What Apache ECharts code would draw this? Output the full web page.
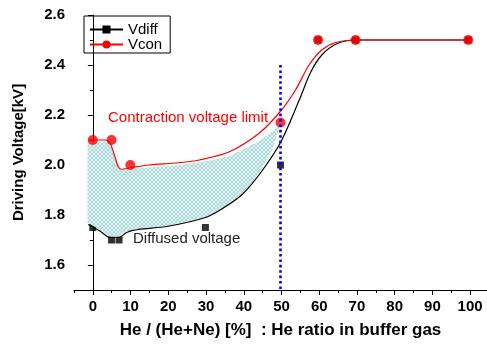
<!DOCTYPE html>
<html>
<head>
<meta charset="utf-8">
<script src="https://cdn.jsdelivr.net/npm/echarts@6/dist/echarts.min.js"></script>
<style>
  html, body { margin: 0; padding: 0; background: #fff; }
  #chart { width: 487px; height: 345px; }
</style>
</head>
<body>
<div id="chart"></div>
<script>
// measured points
const vdiffX = [0, 5, 7, 10, 30, 50, 60, 70, 100];
const vdiffY = [1.75, 1.70, 1.70, 1.75, 1.75, 2.0, 2.5, 2.5, 2.5];
const vconX = [0, 5, 10, 50, 60, 70, 100];
const vconY = [2.1, 2.1, 2.0, 2.17, 2.5, 2.5, 2.5];

// fitted curves as drawn in the picture (they do not pass through the points)
const vdiffCurveX = [-1.2, 2, 4.6, 7, 9, 12, 20, 30, 35, 40, 45, 50, 55, 58, 61, 65, 70, 100];
const vdiffCurveY = [1.762, 1.735, 1.71, 1.71, 1.73, 1.742, 1.755, 1.79, 1.83, 1.885, 1.975, 2.09, 2.26, 2.37, 2.44, 2.485, 2.5, 2.5];
const vconCurveX = [-1.2, 3.3, 4.6, 5.9, 6.8, 7.7, 10.3, 15, 23, 28.4, 36.4, 44.3, 50, 54, 57.6, 61, 64.7, 70, 100];
const vconCurveY = [2.10, 2.10, 2.087, 2.033, 1.993, 1.983, 1.99, 2.0, 2.009, 2.02, 2.053, 2.127, 2.215, 2.30, 2.40, 2.46, 2.49, 2.5, 2.5];

// hatched band between the two limits
const bandTopX = [-1.4, 3.3, 4.6, 5.9, 6.8, 7.7, 10, 15, 23.2, 28.4, 36.4, 44.3, 48.8, 50];
const bandTopY = [2.09, 2.095, 2.085, 2.03, 1.99, 1.98, 1.985, 1.99, 2.0, 2.01, 2.035, 2.095, 2.147, 2.17];
const bandBottomX = [49.6, 47.8, 45, 41.7, 35.5, 30, 20, 12, 9, 7, 4.6, 2, -1.4];
const bandBottomY = [2.14, 2.06, 1.985, 1.91, 1.835, 1.79, 1.757, 1.745, 1.735, 1.715, 1.715, 1.74, 1.77];

const xTicks = [0, 100];
const yTicks = [1.6, 2.6];
const limitX = 50;
const limitRange = [2.4, 1.5];

const FONT = '"Liberation Sans", Arial, sans-serif';

const pair = (xs, ys) => xs.map((x, i) => [x, ys[i]]);

// little crosshatch tile for the band
const tile = document.createElement('canvas');
tile.width = 4;
tile.height = 4;
const tctx = tile.getContext('2d');
tctx.fillStyle = '#b0d9dc';
tctx.fillRect(0, 0, 4, 4);
tctx.fillStyle = 'rgba(255,255,255,0.6)';
for (let i = 0; i < 4; i++) {
  tctx.fillRect(i, i, 1, 1);
  tctx.fillRect(3 - i, i, 1, 1);
}

const chart = echarts.init(document.getElementById('chart'), null, { renderer: 'canvas' });

// grid 0 holds the data (-5..105, 1.5..2.6); grid 1 only carries the labelled ticks
const gLeft = 74, gTop = 15, gWidth = 415, gHeight = 275;
const pxPerX = gWidth / 110;
const pxPerY = gHeight / 1.1;

const tickLabel = { color: '#000', fontSize: 15, fontWeight: 'bold', fontFamily: FONT };

const option = {
  animation: false,
  grid: [
    { left: gLeft, top: gTop, width: gWidth, height: gHeight },
    { left: gLeft + 5 * pxPerX, top: gTop, width: 100 * pxPerX, height: 1.0 * pxPerY }
  ],
  legend: {
    orient: 'vertical',
    left: 84,
    top: 16,
    data: ['Vdiff', 'Vcon'],
    borderColor: '#000',
    borderWidth: 1,
    borderRadius: 0,
    padding: [6, 8, 1, 5],
    itemGap: 0,
    itemWidth: 33,
    itemHeight: 10,
    textStyle: { color: '#000', fontSize: 15, fontFamily: FONT, lineHeight: 15 }
  },
  xAxis: [
    {
      type: 'value', gridIndex: 0, min: -5, max: 105, interval: 110,
      name: 'He / (He+Ne) [%]  : He ratio in buffer gas',
      nameLocation: 'middle', nameGap: 32,
      nameTextStyle: { color: '#000', fontSize: 17, fontWeight: 'bold', fontFamily: FONT },
      axisLine: { show: true, lineStyle: { color: '#000', width: 1 } },
      axisTick: { show: true, length: 3, lineStyle: { color: '#000' } },
      axisLabel: { show: false },
      splitLine: { show: false }
    },
    {
      type: 'value', gridIndex: 1, min: xTicks[0], max: xTicks[1], interval: 10,
      offset: gHeight - 1.0 * pxPerY,
      axisLine: { show: false },
      axisTick: { show: true, length: 5, lineStyle: { color: '#000' } },
      minorTick: { show: true, splitNumber: 2, length: 3, lineStyle: { color: '#000' } },
      axisLabel: Object.assign({ margin: 9 }, tickLabel),
      splitLine: { show: false }
    }
  ],
  yAxis: [
    {
      type: 'value', gridIndex: 0, min: 1.5, max: 2.6, interval: 1.1,
      name: 'Driving Voltage[kV]',
      nameLocation: 'middle', nameGap: 48,
      nameTextStyle: { color: '#000', fontSize: 15, fontWeight: 'bold', fontFamily: FONT },
      axisLine: { show: true, lineStyle: { color: '#000', width: 1 } },
      axisTick: { show: true, length: 3, lineStyle: { color: '#000' } },
      axisLabel: { show: false },
      splitLine: { show: false }
    },
    {
      type: 'value', gridIndex: 1, min: yTicks[0], max: yTicks[1], interval: 0.2,
      offset: 5 * pxPerX,
      axisLine: { show: false },
      axisTick: { show: true, length: 5, lineStyle: { color: '#000' } },
      minorTick: { show: true, splitNumber: 2, length: 3, lineStyle: { color: '#000' } },
      axisLabel: Object.assign({ margin: 9, formatter: v => v.toFixed(1) }, tickLabel),
      splitLine: { show: false }
    }
  ],
  graphic: [
    {
      type: 'text', left: 108, top: 110, z: 10,
      style: { text: 'Contraction voltage limit', fill: '#ff0000', font: '15px ' + FONT }
    },
    {
      type: 'text', left: 133, top: 231, z: 10,
      style: { text: 'Diffused voltage', fill: '#222', font: '15px ' + FONT }
    }
  ],
  series: [
    {
      name: 'Vdiff points',
      type: 'scatter',
      xAxisIndex: 0, yAxisIndex: 0,
      z: 1,
      symbol: 'rect',
      symbolSize: 7,
      itemStyle: { color: '#000' },
      data: pair(vdiffX, vdiffY)
    },
    {
      name: 'band',
      type: 'custom',
      xAxisIndex: 0, yAxisIndex: 0,
      z: 2,
      silent: true,
      data: [[0, 2]],
      renderItem: (params, api) => {
        const pts = pair(bandTopX, bandTopY).concat(pair(bandBottomX, bandBottomY)).map(p => api.coord(p));
        return {
          type: 'polygon',
          shape: { points: pts },
          style: { fill: { image: tile, repeat: 'repeat' }, stroke: null }
        };
      }
    },
    {
      name: 'Vdiff',
      type: 'line',
      xAxisIndex: 0, yAxisIndex: 0,
      z: 3,
      smooth: 0.3,
      showSymbol: false,
      symbol: 'rect',
      itemStyle: { color: '#000' },
      lineStyle: { color: '#000', width: 1.2 },
      data: pair(vdiffCurveX, vdiffCurveY)
    },
    {
      name: 'Vcon',
      type: 'line',
      xAxisIndex: 0, yAxisIndex: 0,
      z: 3,
      smooth: 0.3,
      showSymbol: false,
      symbol: 'circle',
      itemStyle: { color: '#ff0000' },
      lineStyle: { color: '#ff0000', width: 1.2 },
      data: pair(vconCurveX, vconCurveY)
    },
    {
      name: 'Vcon points',
      type: 'scatter',
      xAxisIndex: 0, yAxisIndex: 0,
      z: 4,
      symbol: 'circle',
      symbolSize: 10,
      itemStyle: { color: '#ff0000' },
      data: pair(vconX, vconY),
      markLine: {
        silent: true,
        symbol: ['none', 'none'],
        label: { show: false },
        lineStyle: { color: '#0000ff', width: 2.6, type: [2.6, 2.8] },
        data: [[{ coord: [limitX, limitRange[0]] }, { coord: [limitX, limitRange[1]] }]]
      }
    }
  ]
};

chart.setOption(option);
</script>
</body>
</html>
